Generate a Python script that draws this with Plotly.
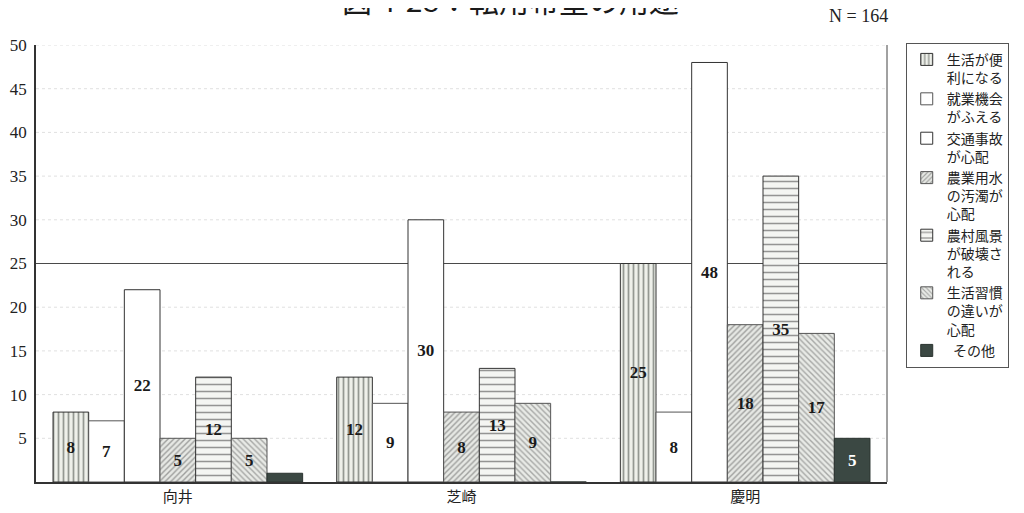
import plotly.graph_objects as go

categories = ["向井", "芝崎", "慶明"]
series_names = [
    "生活が便<br>利になる",
    "就業機会<br>がふえる",
    "交通事故<br>が心配",
    "農業用水<br>の汚濁が<br>心配",
    "農村風景<br>が破壊さ<br>れる",
    "生活習慣<br>の違いが<br>心配",
    "\u00a0\u00a0その他",
]
benri = [8, 12, 25]
shugyo = [7, 9, 8]
kotsu = [22, 30, 48]
yosui = [5, 8, 18]
fukei = [12, 13, 35]
shukan = [5, 9, 17]
sonota = [1, 0, 5]
series_values = [benri, shugyo, kotsu, yosui, fukei, shukan, sonota]
y_ticks = [5, 10, 15, 20, 25, 30, 35, 40, 45, 50]
reference_level = 25
title_text = "図 4-28：転用希望の用途"
n_text = "N = 164"

styles = [
    dict(color="white", pattern=dict(shape="|", fgcolor="#3a3f3a", bgcolor="#eef0ea", size=5, solidity=0.35), line="#333333"),
    dict(color="white", pattern=None, line="#555555"),
    dict(color="white", pattern=None, line="#333333"),
    dict(color="white", pattern=dict(shape="/", fgcolor="#555555", bgcolor="#e6e8e4", size=4, solidity=0.35), line="#555555"),
    dict(color="white", pattern=dict(shape="-", fgcolor="#333333", bgcolor="#f4f5f2", size=7, solidity=0.22), line="#333333"),
    dict(color="white", pattern=dict(shape="\\", fgcolor="#666666", bgcolor="#e8eae6", size=4, solidity=0.35), line="#555555"),
    dict(color="#3b4843", pattern=None, line="#2a332f"),
]

fig = go.Figure()
for name, vals, st in zip(series_names, series_values, styles):
    marker = dict(color=st["color"], line=dict(color=st["line"], width=1))
    if st["pattern"]:
        marker["pattern"] = st["pattern"]
    txt = [str(v) if v >= 2 else "" for v in vals]
    fig.add_trace(go.Bar(
        x=categories, y=vals, name=name, marker=marker,
        text=txt, textposition="inside", insidetextanchor="middle", textangle=0,
        textfont=dict(family="Liberation Serif", size=17,
                      color="white" if st["color"] != "white" else "#1a1a1a",
                      weight="bold"),
        hoverinfo="skip",
    ))

for t in y_ticks:
    if t == reference_level:
        fig.add_shape(type="line", xref="paper", yref="y", x0=0, x1=1, y0=t, y1=t,
                      line=dict(color="#4a4a4a", width=1), layer="below")
    else:
        fig.add_shape(type="line", xref="paper", yref="y", x0=0, x1=1, y0=t, y1=t,
                      line=dict(color="#e0e0e0", width=1, dash="dot"), layer="below")
fig.add_shape(type="line", xref="paper", yref="y", x0=1, x1=1, y0=0, y1=50,
              line=dict(color="#444444", width=1))

fig.add_annotation(text=title_text, xref="paper", yref="paper", x=0.557, y=1.05,
                   xanchor="center", yanchor="bottom", showarrow=False,
                   font=dict(family="Noto Sans CJK JP", size=30, color="#1a1a1a"))
fig.add_annotation(text=n_text, xref="paper", yref="paper", x=0.967, y=1.066,
                   xanchor="center", yanchor="middle", showarrow=False,
                   font=dict(family="Liberation Serif", size=18, color="#222222"))

fig.update_layout(
    width=1016, height=505,
    margin=dict(l=28, r=137, t=37, b=31, autoexpand=False),
    paper_bgcolor="white", plot_bgcolor="white",
    barmode="group", bargap=0.12, bargroupgap=0,
    showlegend=True,
    legend=dict(x=1.022, y=1.005, xanchor="left", yanchor="top",
                bgcolor="white", bordercolor="#555555", borderwidth=1,
                font=dict(family="Noto Sans CJK JP", size=14, color="#222222"),
                valign="top", tracegroupgap=0, itemwidth=30, maxheight=400),
    xaxis=dict(showline=True, linecolor="#333333", linewidth=1.5, ticks="",
               automargin=False,
               tickfont=dict(family="Noto Sans CJK JP", size=15, color="#222222"),
               range=[-0.5, 2.5]),
    yaxis=dict(range=[0, 50], tickvals=y_ticks, showline=True, linecolor="#333333",
               linewidth=1.5, ticks="", showgrid=False, zeroline=False,
               ticklabelstandoff=4, automargin=False,
               tickfont=dict(family="Liberation Serif", size=17, color="#222222")),
)

fig.write_html("out.html")
